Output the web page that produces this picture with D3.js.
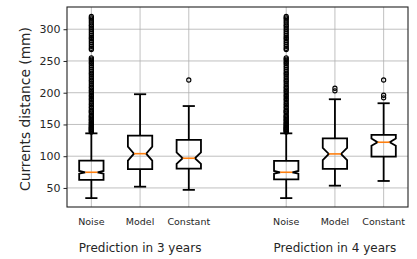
<!DOCTYPE html>
<html>
<head>
<meta charset="utf-8">
<script src="https://cdn.jsdelivr.net/npm/d3@7"></script>
<style>
  body { margin: 0; background: #fff; }
  text { font-family: "DejaVu Sans", sans-serif; }
</style>
</head>
<body>
<div id="chart"></div>
<script>
const width = 417;
const height = 259;
const margin = {top: 7, right: 9, bottom: 52, left: 67};

// box plot summary
const labels = ["Noise", "Model", "Constant", "Noise", "Model", "Constant"];
const positions = [1, 2, 3, 5, 6, 7];
const groupLabels = ["Prediction in 3 years", "Prediction in 4 years"];
const groupPositions = [2, 6];
const q1s = [62.6, 79.5, 80.5, 63.5, 80, 99.3];
const medians = [74.7, 104, 96.8, 74.7, 103.6, 122];
const q3s = [93, 132.4, 125.7, 92.5, 128, 133.5];
const notchLow = [72.6, 93, 88, 72.6, 94, 116.5];
const notchHigh = [76.8, 115, 106, 76.8, 113, 128];
const whiskerLow = [34, 52, 47, 34, 53.6, 61];
const whiskerHigh = [136, 197.6, 179, 136, 189.7, 183.4];
const noiseOutliers = [138, 139, 140, 141.5, 142, 143, 144.5, 145, 146, 147.5, 149, 150, 152, 153, 155,
  157, 158, 160, 162, 163, 165, 168, 170, 171, 173, 176, 178, 181, 183, 186, 189, 191, 194,
  196, 199, 202, 204, 207, 209, 212, 215, 218, 220, 223, 226, 229, 231, 234, 237, 240, 243,
  246, 248, 251, 253, 255, 268, 270, 273, 276, 279, 282, 285, 287, 290, 293, 296, 299, 302,
  305, 307, 310, 313, 316, 318, 320];
const outliers = [noiseOutliers, [], [220], noiseOutliers, [203, 207], [192, 196, 220]];
const yTicks = [50, 100, 150, 200, 250, 300];

const boxes = labels.map((d, i) => ({
  label: d, pos: positions[i], q1: q1s[i], med: medians[i], q3: q3s[i],
  nlo: notchLow[i], nhi: notchHigh[i], wlo: whiskerLow[i], whi: whiskerHigh[i],
  fliers: outliers[i]
}));

const xScale = d3.scaleLinear()
  .domain([0.5, 7.5])
  .range([margin.left, width - margin.right]);

const yScale = d3.scaleLinear()
  .domain([20, 335])
  .range([height - margin.bottom, margin.top]);

const svg = d3.select("#chart")
  .append("svg")
  .attr("width", width)
  .attr("height", height);

// grid
svg.append("g")
  .selectAll("line")
  .data(yTicks)
  .join("line")
  .attr("x1", margin.left)
  .attr("x2", width - margin.right)
  .attr("y1", d => yScale(d))
  .attr("y2", d => yScale(d))
  .attr("stroke", "#b0b0b0")
  .attr("stroke-width", 0.8);

svg.append("g")
  .selectAll("line")
  .data(positions)
  .join("line")
  .attr("x1", d => xScale(d))
  .attr("x2", d => xScale(d))
  .attr("y1", margin.top)
  .attr("y2", height - margin.bottom)
  .attr("stroke", "#b0b0b0")
  .attr("stroke-width", 0.8);

const hw = 0.25;   // half box width in data units
const bx = svg.append("g")
  .selectAll("g")
  .data(boxes)
  .join("g");

// whiskers
bx.append("line")
  .attr("x1", d => xScale(d.pos)).attr("x2", d => xScale(d.pos))
  .attr("y1", d => yScale(d.q1)).attr("y2", d => yScale(d.wlo))
  .attr("stroke", "#000").attr("stroke-width", 1.8);
bx.append("line")
  .attr("x1", d => xScale(d.pos)).attr("x2", d => xScale(d.pos))
  .attr("y1", d => yScale(d.q3)).attr("y2", d => yScale(d.whi))
  .attr("stroke", "#000").attr("stroke-width", 1.8);

// caps
["wlo", "whi"].forEach(k => {
  bx.append("line")
    .attr("x1", d => xScale(d.pos - hw / 2)).attr("x2", d => xScale(d.pos + hw / 2))
    .attr("y1", d => yScale(d[k])).attr("y2", d => yScale(d[k]))
    .attr("stroke", "#000").attr("stroke-width", 1.8);
});

// notched box
bx.append("path")
  .attr("d", d => {
    const l = xScale(d.pos - hw), r = xScale(d.pos + hw);
    const il = xScale(d.pos - hw / 2), ir = xScale(d.pos + hw / 2);
    return d3.line()([
      [l, yScale(d.q1)], [r, yScale(d.q1)], [r, yScale(d.nlo)], [ir, yScale(d.med)],
      [r, yScale(d.nhi)], [r, yScale(d.q3)], [l, yScale(d.q3)], [l, yScale(d.nhi)],
      [il, yScale(d.med)], [l, yScale(d.nlo)]
    ]) + "Z";
  })
  .attr("fill", "none")
  .attr("stroke", "#000")
  .attr("stroke-width", 1.8)
  .attr("stroke-linejoin", "miter");

// median
bx.append("line")
  .attr("x1", d => xScale(d.pos - hw / 2)).attr("x2", d => xScale(d.pos + hw / 2))
  .attr("y1", d => yScale(d.med)).attr("y2", d => yScale(d.med))
  .attr("stroke", "#ff7f0e").attr("stroke-width", 1.6);

// fliers
bx.selectAll("circle")
  .data(d => d.fliers.map(v => ({pos: d.pos, v: v})))
  .join("circle")
  .attr("cx", d => xScale(d.pos))
  .attr("cy", d => yScale(d.v))
  .attr("r", 2.1)
  .attr("fill", "none")
  .attr("stroke", "#000")
  .attr("stroke-width", 1.1);

// frame
svg.append("rect")
  .attr("x", margin.left)
  .attr("y", margin.top)
  .attr("width", width - margin.left - margin.right)
  .attr("height", height - margin.top - margin.bottom)
  .attr("fill", "none")
  .attr("stroke", "#222")
  .attr("stroke-width", 1.1);

// y axis
const yAxisGroup = svg.append("g")
  .attr("transform", `translate(${margin.left}, 0)`)
  .call(d3.axisLeft(yScale).tickValues(yTicks).tickSize(3.5).tickPadding(3));
yAxisGroup.select(".domain").remove();
yAxisGroup.selectAll(".tick line").attr("stroke", "#222");
yAxisGroup.selectAll(".tick text")
  .attr("font-size", "11px")
  .attr("font-family", "DejaVu Sans")
  .attr("fill", "#262626");

svg.append("text")
  .attr("transform", `translate(${25}, ${(margin.top + height - margin.bottom) / 2 + 2})rotate(-90)`)
  .attr("text-anchor", "middle")
  .attr("dominant-baseline", "central")
  .attr("font-size", "13.8px")
  .attr("fill", "#262626")
  .text("Currents distance (mm)");

// x labels
svg.append("g")
  .selectAll("text")
  .data(boxes)
  .join("text")
  .attr("x", d => xScale(d.pos))
  .attr("y", 225)
  .attr("text-anchor", "middle")
  .attr("font-size", "9.5px")
  .attr("fill", "#262626")
  .text(d => d.label);

svg.append("g")
  .selectAll("text")
  .data(groupLabels)
  .join("text")
  .attr("x", (d, i) => xScale(groupPositions[i]))
  .attr("y", 252)
  .attr("text-anchor", "middle")
  .attr("font-size", "12px")
  .attr("fill", "#262626")
  .text(d => d);
</script>
</body>
</html>
